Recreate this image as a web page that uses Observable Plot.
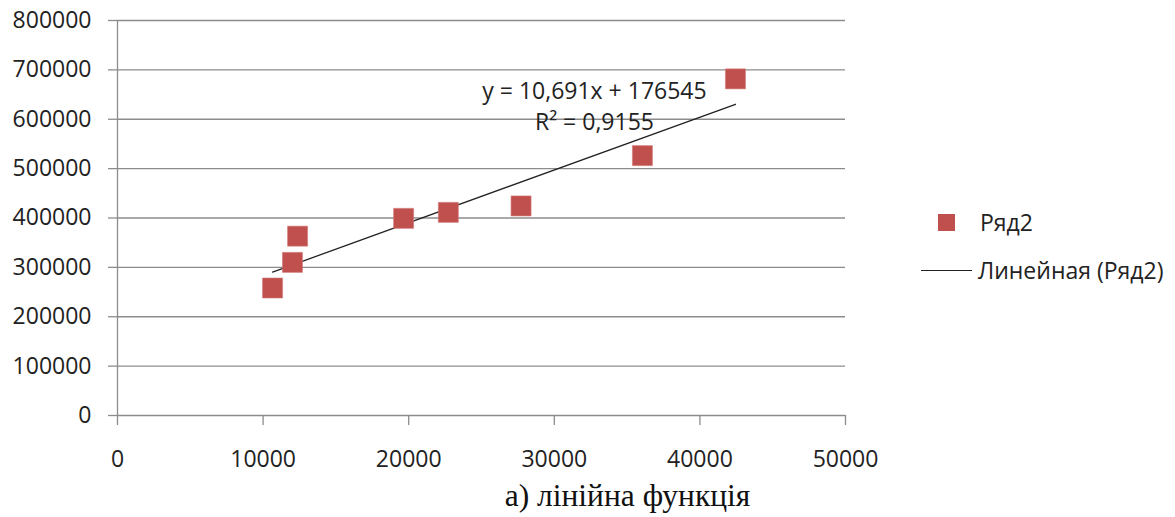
<!DOCTYPE html>
<html>
<head>
<meta charset="utf-8">
<script src="https://cdn.jsdelivr.net/npm/d3@7"></script>
<script src="https://cdn.jsdelivr.net/npm/@observablehq/plot@0.6"></script>
<style>
  html, body { margin: 0; padding: 0; background: #fff; }
  #wrap { position: relative; width: 1175px; height: 517px; overflow: hidden; }
  #legend { position: absolute; left: 921px; top: 204px; font: 23px "Open Sans", sans-serif; color: #222; }
  .item { position: absolute; white-space: nowrap; height: 36px; display: flex; align-items: center; }
  .sw-square { width: 17px; height: 17px; background: #C0504D; margin-left: 17px; margin-right: 25px; }
  .sw-line { width: 51px; height: 0; border-top: 1.3px solid #222; margin-right: 6px; }
  #caption { position: absolute; left: 0; top: 480px; width: 1095px; padding-left: 80px;
             text-align: center; font: 31.5px "Liberation Serif", "Times New Roman", serif; line-height: 1; color: #111; }
</style>
</head>
<body>
<div id="wrap">
  <div id="chart"></div>
  <div id="legend"></div>
  <div id="caption"></div>
</div>
<script>
// Observations: x and y values of each point
const xs = [10650, 12017, 12368, 19651, 22722, 27717, 36052, 42442];
const ys = [258200, 310100, 363200, 399300, 411400, 424400, 526300, 681800];

// Axis ticks
const xTicks = [0, 10000, 20000, 30000, 40000, 50000];
const yTicks = [0, 100000, 200000, 300000, 400000, 500000, 600000, 700000, 800000];

// Linear trend as stated on the chart
const slope = 10.691;
const intercept = 176545;
const r2 = 0.9155;
const equationLabel = "y = 10,691x + 176545\nR² = 0,9155";

const seriesName = "Ряд2";
const trendName = "Линейная (Ряд2)";
const captionText = "а) лінійна функція";

const points = xs.map((x, i) => ({x, y: ys[i]}));
const xMin = d3.min(xs), xMax = d3.max(xs);
const trend = [xMin, xMax].map(x => ({x, y: slope * x + intercept}));

const grid = "#8c8c8c";

const chart = Plot.plot({
  width: 1175,
  height: 482,
  marginLeft: 117,
  marginRight: 330,
  marginTop: 20,
  marginBottom: 67,
  style: {fontFamily: "'Open Sans', sans-serif", fontSize: "23px", color: "#222", background: "transparent"},
  x: {domain: [0, 50000]},
  y: {domain: [0, 800000]},
  marks: [
    Plot.gridY(yTicks, {stroke: grid, strokeOpacity: 1, strokeWidth: 1.3}),
    Plot.ruleX([0], {stroke: grid, strokeWidth: 1.3}),
    Plot.axisY({ticks: yTicks, tickSize: 9, tickPadding: 17, stroke: grid, strokeWidth: 1.3, fill: "#222",
                tickFormat: d => String(d), label: null}),
    Plot.axisX({ticks: xTicks, tickSize: 10, tickPadding: 25, stroke: grid, strokeWidth: 1.3, fill: "#222",
                tickFormat: d => String(d), label: null}),
    Plot.line(trend, {x: "x", y: "y", stroke: "#222", strokeWidth: 1.3}),
    Plot.dot(points, {x: "x", y: "y", symbol: "square", r: 11.3, fill: "#C0504D", stroke: "#d27c79", strokeWidth: 0.6}),
    Plot.text([trend[1]], {x: "x", y: "y", text: () => equationLabel, dx: -141, dy: 0,
                           lineAnchor: "middle", lineHeight: 1.38, fill: "#222", fontSize: 23})
  ]
});
document.getElementById("chart").appendChild(chart);

// Legend
const legend = document.getElementById("legend");
legend.innerHTML =
  `<div class="item" style="top:0px"><span class="sw-square"></span><span>${seriesName}</span></div>` +
  `<div class="item" style="top:48px"><span class="sw-line"></span><span>${trendName}</span></div>`;

document.getElementById("caption").textContent = captionText;
</script>
</body>
</html>
